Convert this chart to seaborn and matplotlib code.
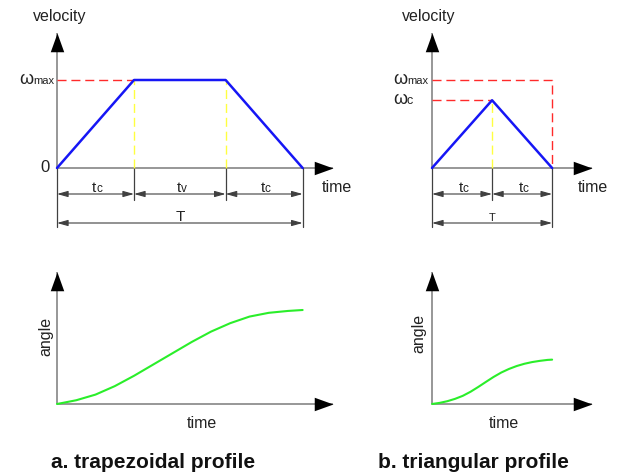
import matplotlib
matplotlib.use("Agg")
from matplotlib import pyplot as plt
import seaborn as sns

# velocity profiles (time in units where the accel. time tc of profile a is 1)
trap_time = [0.0, 1.0, 2.19, 3.19]
trap_velocity = [0.0, 1.0, 1.0, 0.0]
tri_time = [0.0, 0.78, 1.56]
tri_velocity = [0.0, 0.77, 0.0]
w_max = 1.0

# angle curves (1.0 = end angle of the trapezoid profile)
trap_angle_time = [0.0, 0.25, 0.5, 0.75, 1.0, 1.25, 1.5, 1.75, 2.0, 2.25, 2.5, 2.75, 3.0, 3.19]
trap_angle = [0.0, 0.04, 0.10, 0.19, 0.30, 0.42, 0.54, 0.66, 0.77, 0.86, 0.93, 0.97, 0.99, 1.0]
tri_angle_time = [0.0, 0.1, 0.2, 0.3, 0.4, 0.5, 0.6, 0.7, 0.8, 0.9, 1.0, 1.1, 1.2, 1.3,
                  1.4, 1.5, 1.56]
tri_angle = [0.0, 0.012, 0.030, 0.055, 0.087, 0.130, 0.181, 0.235, 0.288, 0.335, 0.373,
             0.404, 0.428, 0.446, 0.459, 0.469, 0.472]

W, H = 619, 475
GRAY = "#858585"
DIM = "#404040"
BLUE = "#1616f5"
RED = "#ff2a2a"
YELLOW = "#ffff40"
GREEN = "#2aee2a"

HEAD_RIGHT = [(0, 0), (-1, 0.36), (-1, -0.36), (0, 0)]
HEAD_UP = [(0, 0), (0.36, -1), (-0.36, -1), (0, 0)]

sns.set_theme(style="white")
plt.rcParams["font.family"] = ["Liberation Sans", "DejaVu Sans"]

fig = plt.figure(figsize=(W / 100, H / 100), dpi=100)


def panel():
    # full-figure transparent axes, limits are set afterwards
    ax = fig.add_axes([0, 0, 1, 1])
    ax.set_axis_off()
    ax.patch.set_alpha(0)
    return ax


def fix_limits(ax, ox, oy, sx, sy):
    # put the data origin at pixel (ox, oy), sx / sy pixels per unit
    ax.set_xlim(-ox / sx, (W - ox) / sx)
    ax.set_ylim(-(H - oy) / sy, oy / sy)
    ax.set_axis_off()


def px(x, y):
    return x / W, 1 - y / H


def draw_axes(ax, x_tip, y_tip):
    ax.plot([0, x_tip], [0, 0], color=GRAY, lw=1.2, solid_capstyle="butt", zorder=1)
    ax.plot([0, 0], [0, y_tip], color=GRAY, lw=1.2, solid_capstyle="butt", zorder=1)
    ax.plot(x_tip, 0, marker=HEAD_RIGHT, ms=27, color="black", mew=0, zorder=5)
    ax.plot(0, y_tip, marker=HEAD_UP, ms=27, color="black", mew=0, zorder=5)


def dim_arrow(ax, x0, x1, y):
    ax.annotate("", xy=(x1, y), xytext=(x0, y),
                arrowprops=dict(arrowstyle="<|-|>,head_length=0.5,head_width=0.14",
                                mutation_scale=13, color=DIM, lw=0.8,
                                shrinkA=0, shrinkB=0))


def sub_text(ax, x, y, main, sub, size=11, subsize=8.5, **kw):
    ax.text(x, y, main, ha="right", va="baseline", fontsize=size, color="#222222", **kw)
    ax.text(x, y, sub, ha="left", va="baseline", fontsize=subsize, color="#222222", **kw)


def ticks_and_dims(ax, edges, labels, T_size, sy):
    row = -26 / sy
    row_T = -55 / sy
    for i, x in enumerate(edges):
        bottom = -59 / sy if i in (0, len(edges) - 1) else -32 / sy
        ax.plot([x, x], [0, bottom], color=DIM, lw=0.9, zorder=1)
    for (x0, x1), (m, s) in zip(zip(edges[:-1], edges[1:]), labels):
        dim_arrow(ax, x0, x1, row)
        sub_text(ax, (x0 + x1) / 2 + 0.01, row + 2 / sy, m, s)
    dim_arrow(ax, edges[0], edges[-1], row_T)
    ax.text((edges[0] + edges[-1]) / 2, row_T + 2 / sy, "T", ha="center",
            va="baseline", fontsize=T_size, color="#222222")


dash = (6.5, 3.5)
sx, sy, sa = 77, 88, 94

# ---------- a. trapezoidal velocity ----------
ax = panel()
draw_axes(ax, (333 - 57) / sx, (168 - 33) / sy)
ax.plot([0, trap_time[1]], [w_max, w_max], color=RED, lw=1.0, dashes=dash, zorder=2)
for t in trap_time[1:3]:
    ax.plot([t, t], [0, w_max], color=YELLOW, lw=1.0, dashes=dash, zorder=2)
sns.lineplot(x=trap_time, y=trap_velocity, ax=ax, color=BLUE, lw=1.8, zorder=4)
ticks_and_dims(ax, trap_time, [("t", "c"), ("t", "v"), ("t", "c")], 11, sy)
sub_text(ax, -24 / sx, w_max - 4 / sy, "ω", "max", size=13, subsize=8)
ax.text(-7 / sx, 0, "0", ha="right", va="center", fontsize=12, color="#222222")
fix_limits(ax, 57, 168, sx, sy)

# ---------- b. triangular velocity ----------
ax = panel()
draw_axes(ax, (592 - 432) / sx, (168 - 33) / sy)
ax.plot([0, tri_time[-1], tri_time[-1]], [w_max, w_max, 0], color=RED, lw=1.0,
        dashes=dash, zorder=2)
ax.plot([0, tri_time[1]], [tri_velocity[1]] * 2, color=RED, lw=1.0, dashes=dash, zorder=2)
ax.plot([tri_time[1]] * 2, [0, tri_velocity[1]], color=YELLOW, lw=1.0, dashes=dash, zorder=2)
sns.lineplot(x=tri_time, y=tri_velocity, ax=ax, color=BLUE, lw=1.8, zorder=4)
ticks_and_dims(ax, tri_time, [("t", "c"), ("t", "c")], 8, sy)
sub_text(ax, -25 / sx, w_max - 4 / sy, "ω", "max", size=13, subsize=8)
sub_text(ax, -25 / sx, tri_velocity[1] - 4 / sy, "ω", "c", size=13, subsize=9)
fix_limits(ax, 432, 168, sx, sy)

# ---------- angle curves ----------
ax = panel()
draw_axes(ax, (333 - 57) / sx, (404 - 272) / sa)
sns.lineplot(x=trap_angle_time, y=trap_angle, ax=ax, color=GREEN, lw=1.5, zorder=4)
fix_limits(ax, 57, 404, sx, sa)

ax = panel()
draw_axes(ax, (592 - 432) / sx, (404 - 272) / sa)
sns.lineplot(x=tri_angle_time, y=tri_angle, ax=ax, color=GREEN, lw=1.5, zorder=4)
fix_limits(ax, 432, 404, sx, sa)

# ---------- free labels ----------
txt = dict(fontsize=11.5, color="#222222")
fig.text(*px(33, 17), "velocity", ha="left", va="center", **txt)
fig.text(*px(402, 17), "velocity", ha="left", va="center", **txt)
fig.text(*px(322, 187), "time", ha="left", va="center", **txt)
fig.text(*px(578, 187), "time", ha="left", va="center", **txt)
fig.text(*px(46, 336), "angle", ha="center", va="center", rotation=90, **txt)
fig.text(*px(419, 333), "angle", ha="center", va="center", rotation=90, **txt)
fig.text(*px(202, 424), "time", ha="center", va="center", **txt)
fig.text(*px(504, 424), "time", ha="center", va="center", **txt)
fig.text(*px(153, 462), "a. trapezoidal profile", ha="center", va="center",
         fontsize=15, fontweight="bold", color="#111111")
fig.text(*px(473, 462), "b. triangular profile", ha="center", va="center",
         fontsize=15, fontweight="bold", color="#111111")

fig.savefig("out.png", dpi=100)
